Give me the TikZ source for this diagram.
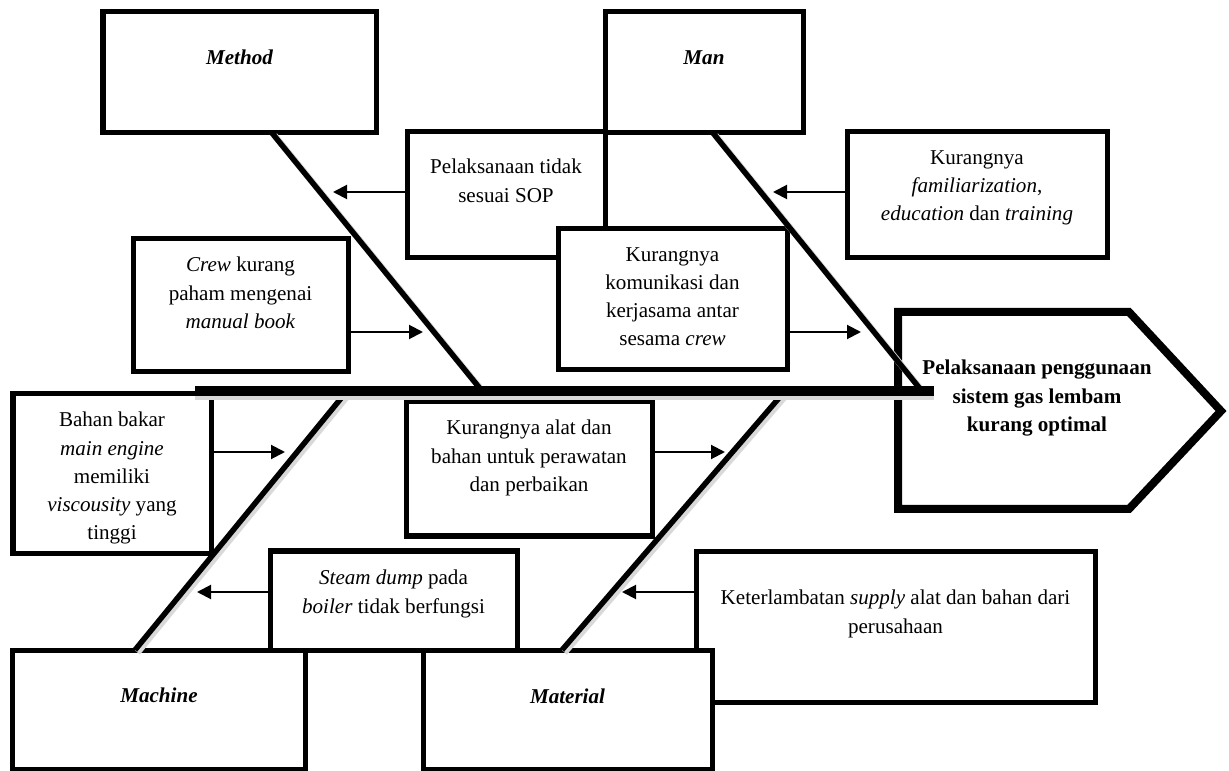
\documentclass[tikz,border=0pt]{standalone}
\usepackage{fontspec}
\setmainfont{Liberation Serif}
\usetikzlibrary{arrows.meta,positioning}

\begin{document}
\begin{tikzpicture}[
    node distance=0.36cm,
    box/.style={draw, fill=white, line width=0.1cm, outer sep=0pt, inner sep=0pt},
    sz/.style n args={2}{minimum width=#1cm, minimum height=#2cm},
    txt/.style={align=center, inner sep=0pt, font=\fontsize{12}{16}\selectfont},
    cat/.style={txt, font=\fontsize{12}{16}\selectfont\bfseries\itshape},
    bone/.style={line width=0.11cm, preaction={draw, black!15, line width=0.13cm, transform canvas={xshift=0.05cm, yshift=-0.05cm}}},
    arr/.style={-{Triangle[length=2.8mm, width=2.8mm]}, line width=0.04cm},
]
\useasboundingbox (0,0) rectangle (24.58,-15.42);

% Category boxes on top
\node[box, sz={5.46}{2.42}] (mth) at (4.79,-1.45) {};
\node[box, sz={3.96}{2.42}] (man) at (14.08,-1.45) {};

% Causes of Method and Man
\node[box, sz={3.96}{2.52}] (sop) at (10.12,-3.90) {};
\node[box, sz={5.20}{2.52}] (fam) at (19.54,-3.90) {};
\node[box, sz={4.30}{2.66}] (crw) at (4.81,-6.11) {};
\node[box, sz={4.58}{2.82}] (kom) at (13.45,-5.99) {};

% Causes of Machine and Material
\node[box, sz={3.96}{3.20}] (bhn) at (2.24,-9.48) {};
\node[box, sz={4.92}{2.68}] (alt) at (10.58,-9.38) {};
\node[box, sz={4.94}{1.98}] (stm) at (7.87,-12.01) {};
\node[box, sz={7.98}{3.00}] (ket) at (17.91,-12.54) {};

% Category boxes at the bottom
\node[box, sz={5.84}{2.38}] (mch) at (3.18,-14.19) {};
\node[box, sz={5.78}{2.38}] (mat) at (11.35,-14.19) {};

% Head of the fish
\draw[line width=0.16cm, fill=white] (17.96,-6.24) -- (22.58,-6.24) -- (24.42,-8.22) -- (22.58,-10.18) -- (17.96,-10.18) -- cycle;

% Texts
\node[cat, below=0.76cm of mth.north] (mthT) {Method};
\node[cat, below=0.76cm of man.north] (manT) {Man};
\node[cat, below=0.76cm of mch.north] (mchT) {Machine};
\node[cat, below=0.78cm of mat.north] (matT) {Material};
\node[txt, below=0.54cm of sop.north] (sopT) {Pelaksanaan tidak\\sesuai SOP};
\node[txt, below=of fam.north] (famT) {Kurangnya\\\textit{familiarization},\\\textit{education} dan \textit{training}};
\node[txt, below=of crw.north] (crwT) {\textit{Crew} kurang\\paham mengenai\\\textit{manual book}};
\node[txt, below=of kom.north] (komT) {Kurangnya\\komunikasi dan\\kerjasama antar\\sesama \textit{crew}};
\node[txt, below=of bhn.north] (bhnT) {Bahan bakar\\\textit{main engine}\\memiliki\\\textit{viscousity} yang\\tinggi};
\node[txt, below=of alt.north] (altT) {Kurangnya alat dan\\bahan untuk perawatan\\dan perbaikan};
\node[txt, below=0.38cm of stm.north] (stmT) {\textit{Steam dump} pada\\\textit{boiler} tidak berfungsi};
\node[txt, below=0.76cm of ket.north] (ketT) {Keterlambatan \textit{supply} alat dan bahan dari\\perusahaan};
\node[txt, font=\fontsize{12}{16}\selectfont\bfseries, anchor=north] (goal) at (20.74,-7.20) {Pelaksanaan penggunaan\\sistem gas lembam\\kurang optimal};

% Spine and bones
\coordinate (sL) at (3.90,-7.82);
\coordinate (sR) at (18.68,-7.82);
\coordinate (jmth) at (9.64,-7.82);
\coordinate (jman) at (18.42,-7.80);
\coordinate (jmch) at (6.94,-7.82);
\coordinate (jmat) at (15.70,-7.82);
\draw[bone] ([xshift=0.65cm]mth.south) -- (jmth);
\draw[bone] ([xshift=0.18cm]man.south) -- (jman);
\draw[bone] ([xshift=-0.48cm]mch.north) -- (jmch);
\draw[bone] ([xshift=-0.11cm]mat.north) -- (jmat);
\draw[line width=0.2cm, black!15] ([yshift=-0.08cm]sL) -- ([yshift=-0.08cm]sR);
\draw[line width=0.2cm] (sL) -- (sR);

% Arrows
\draw[arr] ([yshift=0.06cm]sop.west) -- ++(-1.48,0);
\draw[arr] ([yshift=0.06cm]fam.west) -- ++(-1.48,0);
\draw[arr] ([yshift=-0.53cm]crw.east) -- ++(1.50,0);
\draw[arr] ([yshift=-0.65cm]kom.east) -- ++(1.48,0);
\draw[arr] ([yshift=0.44cm]bhn.east) -- ++(1.48,0);
\draw[arr] ([yshift=0.34cm]alt.east) -- ++(1.46,0);
\draw[arr] ([yshift=0.17cm]stm.west) -- ++(-1.46,0);
\draw[arr] ([yshift=0.70cm]ket.west) -- ++(-1.48,0);

\end{tikzpicture}
\end{document}
